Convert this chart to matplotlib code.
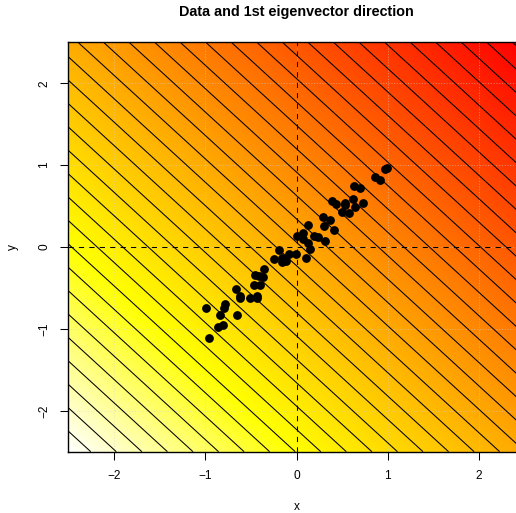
import numpy as np
import matplotlib
matplotlib.use("Agg")
import matplotlib.pyplot as plt
from matplotlib.colors import ListedColormap, hsv_to_rgb

plt.rcParams['font.family'] = ['Liberation Sans', 'DejaVu Sans']

# data points
xs = [-0.961, -0.990, -0.863, -0.804, -0.833, -0.797, -0.782, -0.650, -0.661, -0.621,
      -0.614, -0.508, -0.435, -0.428, -0.461, -0.395, -0.457, -0.409, -0.362, -0.358,
      -0.249, -0.194, -0.161, -0.157, -0.110, -0.080, -0.007, 0.102, 0.146, 0.007,
      0.069, 0.069, 0.128, 0.190, 0.241, 0.311, 0.128, 0.292, 0.303, 0.366,
      0.413, 0.388, 0.431, 0.497, 0.537, 0.530, 0.574, 0.614, 0.636, 0.727,
      0.632, 0.691, 0.855, 0.910, 0.965, 0.994]
ys = [-1.114, -0.744, -0.972, -0.951, -0.833, -0.748, -0.695, -0.833, -0.516, -0.598,
      -0.626, -0.622, -0.594, -0.622, -0.467, -0.463, -0.338, -0.350, -0.362, -0.268,
      -0.150, -0.041, -0.130, -0.183, -0.167, -0.089, -0.081, -0.130, -0.020, 0.138,
      0.175, 0.093, 0.053, 0.134, 0.118, 0.077, 0.272, 0.362, 0.260, 0.333,
      0.207, 0.565, 0.524, 0.427, 0.533, 0.508, 0.419, 0.585, 0.492, 0.533,
      0.744, 0.720, 0.858, 0.817, 0.947, 0.959]

# 1st eigenvector direction
ev = [0.714, 0.700]
lim = [-2.5, 2.5]
level_start = -3.56
level_step = 0.2
ticks = [-2, -1, 0, 1, 2]


def heat_colors(n):
    # R's heat.colors(n)
    j = n // 4
    i = n - j
    cols = [hsv_to_rgb((h, 1, 1)) for h in np.linspace(0, 1 / 6, i)]
    if j > 0:
        for s in np.linspace(1 - 1 / (2 * j), 1 / (2 * j), j):
            cols.append(hsv_to_rgb((1 / 6, s, 1)))
    return cols


cmap = ListedColormap(heat_colors(256)[::-1])

g = np.linspace(lim[0], lim[1], 300)
X, Y = np.meshgrid(g, g)
Z = ev[0] * X + ev[1] * Y

fig = plt.figure(figsize=(5.16, 5.13), dpi=100)
ax = fig.add_axes([68.4 / 516, 61.3 / 513, 456.2 / 516, 409.4 / 513])

ax.imshow(Z, extent=(lim[0], lim[1], lim[0], lim[1]), origin='lower',
          cmap=cmap, aspect='auto', interpolation='bilinear')
for t in ticks:
    ax.axvline(t, color='lightgray', ls=':', lw=0.75, alpha=0.5)
    ax.axhline(t, color='lightgray', ls=':', lw=0.75, alpha=0.5)
levels = np.arange(level_start, Z.max() + level_step, level_step)
ax.contour(X, Y, Z, levels=levels, colors='black', linewidths=0.75,
           negative_linestyles='solid')

ax.plot(xs, ys, 'o', color='black', markersize=5.3)
ax.axhline(0, color='black', lw=0.75, ls=(0, (5, 5)))
ax.axvline(0, color='black', lw=0.75, ls=(0, (5, 5)))

ax.set_xlim(lim)
ax.set_ylim(lim)
ax.set_xticks(ticks)
ax.set_yticks(ticks)
ax.set_xticklabels(['\u22122', '\u22121', '0', '1', '2'])
ax.set_yticklabels(['\u22122', '\u22121', '0', '1', '2'], rotation=90, va='center')
ax.tick_params(direction='out', length=6, width=0.75, labelsize=8.6, pad=7, colors='black')
for sp in ax.spines.values():
    sp.set_linewidth(1.0)

ax.set_xlabel('x', fontsize=8.6, labelpad=14)
ax.set_ylabel('y', fontsize=8.6, labelpad=14)
fig.text(296 / 516, 1 - 12 / 513, 'Data and 1st eigenvector direction',
         ha='center', va='center', fontsize=10.4, fontweight='bold')

fig.savefig('out.png', dpi=100)
